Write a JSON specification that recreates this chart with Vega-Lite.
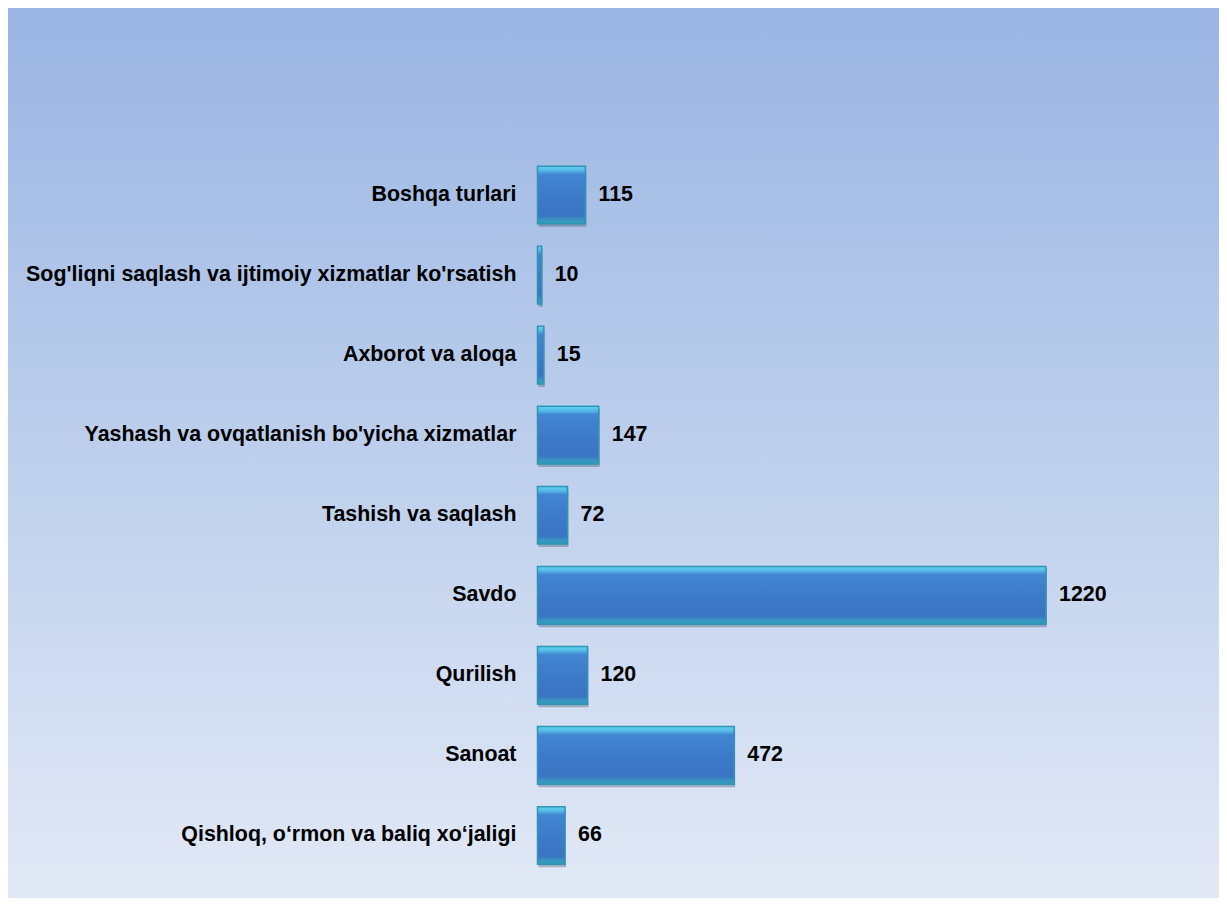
{
  "$schema": "https://vega.github.io/schema/vega-lite/v6.json",
  "width": 1227,
  "height": 906,
  "autosize": {"type": "fit", "contains": "padding"},
  "padding": 8,
  "background": "white",
  "config": {"view": {"stroke": null}},
  "datasets": {
    "sectors": [
      {"sector": "Boshqa turlari", "value": 115},
      {"sector": "Sog'liqni saqlash va ijtimoiy xizmatlar ko'rsatish", "value": 10},
      {"sector": "Axborot va aloqa", "value": 15},
      {"sector": "Yashash va ovqatlanish bo'yicha xizmatlar", "value": 147},
      {"sector": "Tashish va saqlash", "value": 72},
      {"sector": "Savdo", "value": 1220},
      {"sector": "Qurilish", "value": 120},
      {"sector": "Sanoat", "value": 472},
      {"sector": "Qishloq, o‘rmon va baliq xo‘jaligi", "value": 66}
    ]
  },
  "layer": [
    {
      "data": {"values": [{}]},
      "mark": {
        "type": "rect",
        "color": {
          "gradient": "linear", "x1": 0, "y1": 0, "x2": 0, "y2": 1,
          "stops": [
            {"offset": 0, "color": "#9ab5e3"},
            {"offset": 0.5, "color": "#bdcfec"},
            {"offset": 1, "color": "#e2e9f6"}
          ]
        }
      },
      "encoding": {}
    },
    {
      "data": {"name": "sectors"},
      "mark": {"type": "bar", "color": "#4a5a70", "opacity": 0.4, "yOffset": 3, "y2Offset": 3, "xOffset": 1, "x2Offset": 2},
      "encoding": {
        "y": {"field": "sector", "type": "nominal", "axis": null,
          "scale": {"type": "band", "domain": [
            "Boshqa turlari",
            "Sog'liqni saqlash va ijtimoiy xizmatlar ko'rsatish",
            "Axborot va aloqa",
            "Yashash va ovqatlanish bo'yicha xizmatlar",
            "Tashish va saqlash",
            "Savdo",
            "Qurilish",
            "Sanoat",
            "Qishloq, o‘rmon va baliq xo‘jaligi"
          ], "range": [147, 867.5], "paddingInner": 0.28, "paddingOuter": 0.14}},
        "x": {"field": "value", "type": "quantitative", "axis": null,
          "scale": {"domain": [0, 1220], "range": [529.5, 1038], "nice": false, "zero": true}}
      }
    },
    {
      "data": {"name": "sectors"},
      "mark": {
        "type": "bar",
        "stroke": "#3094b3",
        "strokeWidth": 1.5,
        "color": {
          "gradient": "linear", "x1": 0, "y1": 0, "x2": 0, "y2": 1,
          "stops": [
            {"offset": 0, "color": "#62d3f0"},
            {"offset": 0.08, "color": "#52b8e6"},
            {"offset": 0.14, "color": "#4286d2"},
            {"offset": 0.5, "color": "#3c7bc9"},
            {"offset": 0.86, "color": "#3a74c2"},
            {"offset": 0.92, "color": "#3a90c2"},
            {"offset": 1, "color": "#2fa0bb"}
          ]
        }
      },
      "encoding": {
        "y": {"field": "sector", "type": "nominal"},
        "x": {"field": "value", "type": "quantitative"}
      }
    },
    {
      "data": {"name": "sectors"},
      "mark": {"type": "text", "align": "left", "baseline": "middle", "dx": 13, "font": "Liberation Sans", "fontWeight": "bold", "fontSize": 21.4, "color": "#000000"},
      "encoding": {
        "y": {"field": "sector", "type": "nominal"},
        "x": {"field": "value", "type": "quantitative"},
        "text": {"field": "value", "type": "quantitative"}
      }
    },
    {
      "data": {"name": "sectors"},
      "mark": {"type": "text", "align": "right", "baseline": "middle", "dx": -21, "font": "Liberation Sans", "fontWeight": "bold", "fontSize": 21.4, "color": "#000000"},
      "encoding": {
        "y": {"field": "sector", "type": "nominal"},
        "x": {"datum": 0, "type": "quantitative"},
        "text": {"field": "sector", "type": "nominal"}
      }
    }
  ]
}
